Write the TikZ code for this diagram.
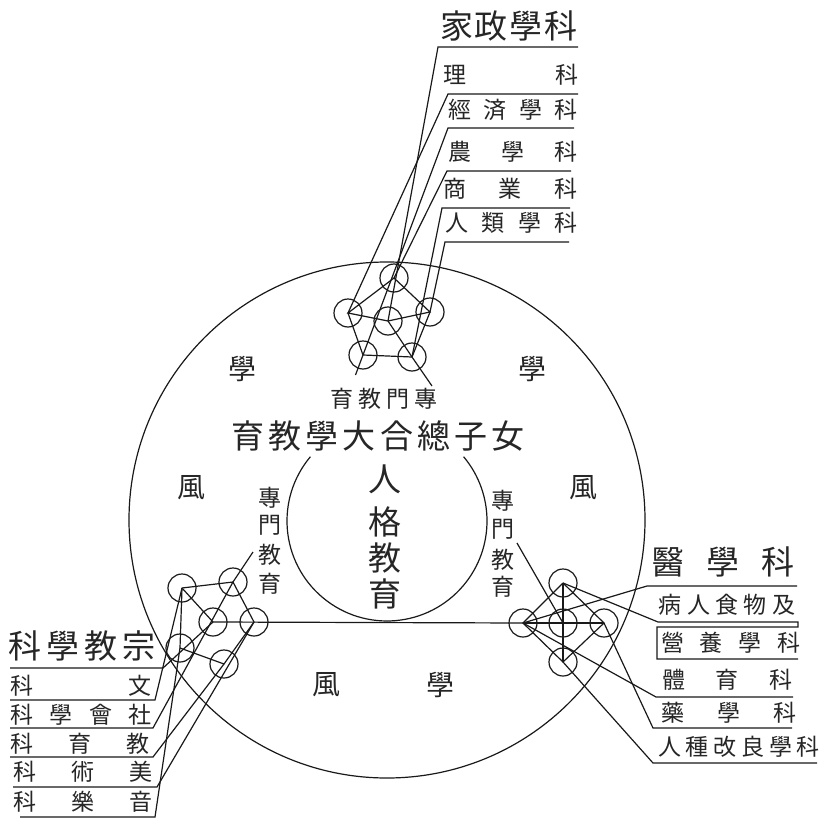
\documentclass[tikz,border=0pt]{standalone}
\usepackage{fontspec}
\newfontfamily\jp{Noto Sans CJK JP}
\newcommand\spreadbox[2]{\makebox[#1][s]{#2}}
\tikzset{
  ln/.style={line width=1.2pt, draw=black!90},
  nd/.style={circle, draw=black!90, line width=1.2pt, minimum size=28pt, inner sep=0pt},
  lab/.style={font=\jp\fontsize{23}{25}\selectfont, inner sep=0pt, text=black!85},
  wind/.style={font=\jp\fontsize{28}{30}\selectfont, inner sep=0pt, text=black!85},
  big/.style={font=\jp\fontsize{33}{36}\selectfont, inner sep=0pt, text=black!85},
}
\begin{document}
\begin{tikzpicture}[x=1pt,y=-1pt]
\useasboundingbox[fill=white] (0,0) rectangle (828,819);

% big circle and inner arc
\draw[ln] (387,520) circle[radius=258pt];
\draw[ln] (310.4,456.7) arc[start angle=140,end angle=400,radius=100pt];

% ---------- top cluster ----------
\node[nd] (tT) at (394,278) {};
\node[nd] (tL) at (348,313) {};
\node[nd] (tC) at (388,321) {};
\node[nd] (tR) at (430,312) {};
\node[nd] (tBL) at (363,355) {};
\node[nd] (tBR) at (412,357) {};
\draw[ln] (tT.center) -- (tL.center) -- (tC.center) -- (tR.center) -- (tT.center);
\draw[ln] (tL.center) -- (tBL.center) -- (tBR.center) -- (tR.center);
\coordinate (tq1) at (355.5,375);
\coordinate (tq2) at (432,386);
\draw[ln] (tC.center) -- (tBR.center) -- (tq2);

% top labels
\node[big] (hA) at (509,26) {\spreadbox{138pt}{家\hfill{}政\hfill{}學\hfill{}科}};
\node[lab] (hB) at (510.5,75) {\spreadbox{135pt}{理\hfill{}科}};
\node[lab] (hC) at (513,110) {\spreadbox{130pt}{經\hfill{}済\hfill{}學\hfill{}科}};
\node[lab] (hD) at (513,152) {\spreadbox{130pt}{農\hfill{}學\hfill{}科}};
\node[lab] (hE) at (510.5,189) {\spreadbox{135pt}{商\hfill{}業\hfill{}科}};
\node[lab] (hF) at (511.5,223) {\spreadbox{133pt}{人\hfill{}類\hfill{}學\hfill{}科}};
\coordinate (k0a) at (438,47);  \coordinate (k0b) at (578,47);
\coordinate (k1a) at (448,94);  \coordinate (k1b) at (578,94);
\coordinate (k2a) at (448,128); \coordinate (k2b) at (574,128);
\coordinate (k3a) at (447,171); \coordinate (k3b) at (571,171);
\coordinate (k4a) at (442,208); \coordinate (k4b) at (570,208);
\coordinate (k5a) at (445,242); \coordinate (k5b) at (569,242);
\draw[ln] (k0b) -- (k0a) -- (tC.center);
\draw[ln] (k1b) -- (k1a) -- (tL.center);
\draw[ln] (k2b) -- (k2a) -- (tBL.center) -- (tq1);
\draw[ln] (k3b) -- (k3a) -- (tT.center);
\draw[ln] (k4b) -- (k4a) -- (tBR.center);
\draw[ln] (k5b) -- (k5a) -- (tR.center);

% central texts
\node[lab] (sA) at (384,399) {\spreadbox{108pt}{育\hfill{}教\hfill{}門\hfill{}專}};
\node[big] (sB) at (378,436) {\spreadbox{293pt}{育\hfill{}教\hfill{}學\hfill{}大\hfill{}合\hfill{}總\hfill{}子\hfill{}女}};
\node[big] (p1) at (385,479) {人};
\node[big] (p2) at (385,522) {格};
\node[big] (p3) at (385,558) {教};
\node[big] (p4) at (385,594) {育};
\node[lab] (a1) at (270,498) {專};
\node[lab] (a2) at (270,525) {門};
\node[lab] (a3) at (270,555) {教};
\node[lab] (a4) at (270,584) {育};
\node[lab] (b1) at (503,501) {專};
\node[lab] (b2) at (503,529) {門};
\node[lab] (b3) at (503,560) {教};
\node[lab] (b4) at (503,587) {育};

% wind / learning
\node[wind] (w1) at (242,369) {學};
\node[wind] (w2) at (532,369) {學};
\node[wind] (w3) at (191,488) {風};
\node[wind] (w4) at (583,488) {風};
\node[wind] (w5) at (326,685) {風};
\node[wind] (w6) at (440,685) {學};

% ---------- left cluster ----------
\node[nd] (lTL) at (182,588) {};
\node[nd] (lTR) at (233,582) {};
\node[nd] (lC) at (213,622) {};
\node[nd] (lR) at (254,622) {};
\node[nd] (lBL) at (180,648) {};
\node[nd] (lB) at (224,664) {};
\draw[ln] (lTL.center) -- (lTR.center) -- (lR.center) -- (lB.center) -- (lBL.center) -- (lTL.center);
\draw[ln] (lTL.center) -- (lC.center);

% ---------- right cluster ----------
\node[nd] (rT) at (563,583) {};
\node[nd] (rL) at (523,623) {};
\node[nd] (rC) at (563,623) {};
\node[nd] (rR) at (604,623) {};
\node[nd] (rB) at (563,662) {};
\draw[ln] (rT.center) -- (rL.center) -- (rB.center) -- (rR.center) -- (rT.center);
\draw[ln] (rT.center) -- (rB.center);
\draw[ln] (rL.center) -- (rR.center);

% long horizontal
\draw[ln] (lC.center) -- (rL.center);

% 專門教育 leaders
\coordinate (ae) at (253,552);
\coordinate (be) at (517,543);
\draw[ln] (ae) -- (lTR.center);
\draw[ln] (be) -- (rC.center);

% left labels
\node[big] (gA) at (82,646) {\spreadbox{147pt}{科\hfill{}學\hfill{}教\hfill{}宗}};
\node[lab] (gB) at (81,686) {\spreadbox{142pt}{科\hfill{}文}};
\node[lab] (gC) at (81,715) {\spreadbox{142pt}{科\hfill{}學\hfill{}會\hfill{}社}};
\node[lab] (gD) at (80,744) {\spreadbox{140pt}{科\hfill{}育\hfill{}教}};
\node[lab] (gE) at (83,772) {\spreadbox{140pt}{科\hfill{}術\hfill{}美}};
\node[lab] (gF) at (83,802) {\spreadbox{140pt}{科\hfill{}樂\hfill{}音}};
\coordinate (q0a) at (10,668);  \coordinate (q0b) at (163,668);
\coordinate (q1a) at (10,700);  \coordinate (q1b) at (155,700);
\coordinate (q2a) at (10,728);  \coordinate (q2b) at (153,728);
\coordinate (q3a) at (10,757);  \coordinate (q3b) at (153,757);
\coordinate (q4a) at (13,787);  \coordinate (q4b) at (157,787);
\coordinate (q5a) at (20,817);  \coordinate (q5b) at (155,817);
\draw[ln] (q0a) -- (q0b) -- (lC.center);
\draw[ln] (q1a) -- (q1b) -- (lTL.center);
\draw[ln] (q2a) -- (q2b) -- (lTR.center);
\draw[ln] (q3a) -- (q3b) -- (lB.center);
\draw[ln] (q4a) -- (q4b) -- (lR.center);
\draw[ln] (q5a) -- (q5b) -- (lBL.center);

% right labels
\node[big] (mA) at (723,562) {\spreadbox{143pt}{醫\hfill{}學\hfill{}科}};
\node[lab] (mB) at (727,605) {\spreadbox{137pt}{病\hfill{}人\hfill{}食\hfill{}物\hfill{}及}};
\node[lab] (mC) at (731,643) {\spreadbox{140pt}{營\hfill{}養\hfill{}學\hfill{}科}};
\node[lab] (mD) at (727,680) {\spreadbox{130pt}{體\hfill{}育\hfill{}科}};
\node[lab] (mE) at (729,713) {\spreadbox{135pt}{藥\hfill{}學\hfill{}科}};
\node[lab] (mF) at (739,747) {\spreadbox{162pt}{人\hfill{}種\hfill{}改\hfill{}良\hfill{}學\hfill{}科}};
\coordinate (m0a) at (647,586); \coordinate (m0b) at (797,586);
\coordinate (m1a) at (658,622); \coordinate (m1b) at (798,622);
\coordinate (bx1) at (798,627); \coordinate (bx2) at (657,627);
\coordinate (bx3) at (657,659); \coordinate (bx4) at (798,659);
\coordinate (m3a) at (656,697); \coordinate (m3b) at (793,697);
\coordinate (m4a) at (653,728); \coordinate (m4b) at (792,728);
\coordinate (m5a) at (653,763); \coordinate (m5b) at (817,763);
\draw[ln] (m0b) -- (m0a) -- (rL.center);
\draw[ln] (rT.center) -- (m1a) -- (m1b) -- (bx1) -- (bx2) -- (bx3) -- (bx4);
\draw[ln] (rL.center) -- (m3a) -- (m3b);
\draw[ln] (rR.center) -- (m4a) -- (m4b);
\draw[ln] (rB.center) -- (m5a) -- (m5b);
\end{tikzpicture}
\end{document}
